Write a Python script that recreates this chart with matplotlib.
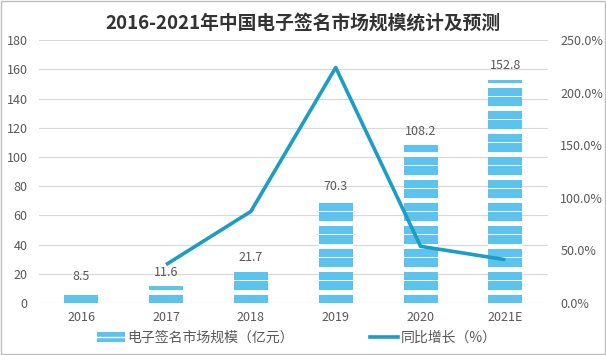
import matplotlib.pyplot as plt
from matplotlib.patches import Patch, Rectangle
from matplotlib.lines import Line2D
from matplotlib.ticker import FuncFormatter, MultipleLocator

plt.rcParams["font.family"] = ["Noto Sans CJK SC", "DejaVu Sans"]

years = ["2016", "2017", "2018", "2019", "2020", "2021E"]
market = [8.5, 11.6, 21.7, 70.3, 108.2, 152.8]  # 亿元
growth_years = ["2017", "2018", "2019", "2020", "2021E"]
growth = [36.5, 87.1, 224.0, 53.9, 41.2]  # %

BAR = "#5cc3ee"
LINE = "#1b9dc4"
GRID = "#d9d9d9"
TXT = "#595959"

fig = plt.figure(figsize=(6.06, 3.55), dpi=100)
ax = fig.add_axes([0.064, 0.1465, 0.84, 0.7405])
ax2 = ax.twinx()

x = list(range(len(years)))
width = 0.4
ax.bar(x, market, width=width, color=BAR, zorder=2)

# white stripe texture on the bars (fixed in data space)
period = 23 / (263 / 180)
for xi, h in zip(x, market):
    k = 0
    while k * period < h:
        base = k * period
        for lo, hi in [(5.5, 8.9), (15.2, 16.0)]:
            y0 = base + lo
            y1 = min(base + hi, h)
            if y0 < h:
                ax.add_patch(Rectangle((xi - width / 2, y0), width, y1 - y0,
                                       facecolor="white", edgecolor="none", zorder=3))
        k += 1

for xi, v in zip(x, market):
    ax.annotate(f"{v}", (xi, v), xytext=(0, 10), textcoords="offset points",
                ha="center", va="center", fontsize=9, color=TXT)

gx = [years.index(y) for y in growth_years]
ax2.plot(gx, growth, color=LINE, lw=2.6, zorder=4, solid_capstyle="butt")

ax.set_xlim(-0.5, len(years) - 0.5)
ax.set_ylim(0, 180)
ax.yaxis.set_major_locator(MultipleLocator(20))
ax2.set_ylim(0, 250)
ax2.yaxis.set_major_locator(MultipleLocator(50))
ax2.yaxis.set_major_formatter(FuncFormatter(lambda v, p: f"{v:.1f}%"))

ax.set_xticks(x)
ax.set_xticklabels(years)
ax.grid(axis="y", color=GRID, lw=0.8, zorder=0)
ax.set_axisbelow(True)
for a in (ax, ax2):
    for s in a.spines.values():
        s.set_visible(False)
    a.tick_params(length=0, labelsize=9, colors=TXT)
ax.tick_params(axis="y", pad=8)
ax.tick_params(axis="x", pad=6)
ax2.tick_params(axis="y", pad=9)
ax.set_zorder(ax2.get_zorder() - 1)
ax2.patch.set_visible(False)
ax.patch.set_visible(False)

fig.text(0.5, 0.935, "2016-2021年中国电子签名市场规模统计及预测", ha="center", va="center",
         fontsize=13.5, fontweight="bold", color="#333333")

handles = [Patch(facecolor=BAR, edgecolor="white", hatch="--", linewidth=0),
           Line2D([0], [0], color=LINE, lw=2.6)]
fig.legend(handles, ["电子签名市场规模（亿元）", "同比增长（%）"], loc="center",
           bbox_to_anchor=(0.49, 0.048), ncol=2, frameon=False, fontsize=10,
           handlelength=2.0, columnspacing=5.5, handletextpad=0.2, labelcolor=TXT)

fig.add_artist(Rectangle((0.001, 0.002), 0.997, 0.995, transform=fig.transFigure,
                         fill=False, edgecolor="#bfbfbf", lw=1))

fig.savefig("out.png", dpi=100)
